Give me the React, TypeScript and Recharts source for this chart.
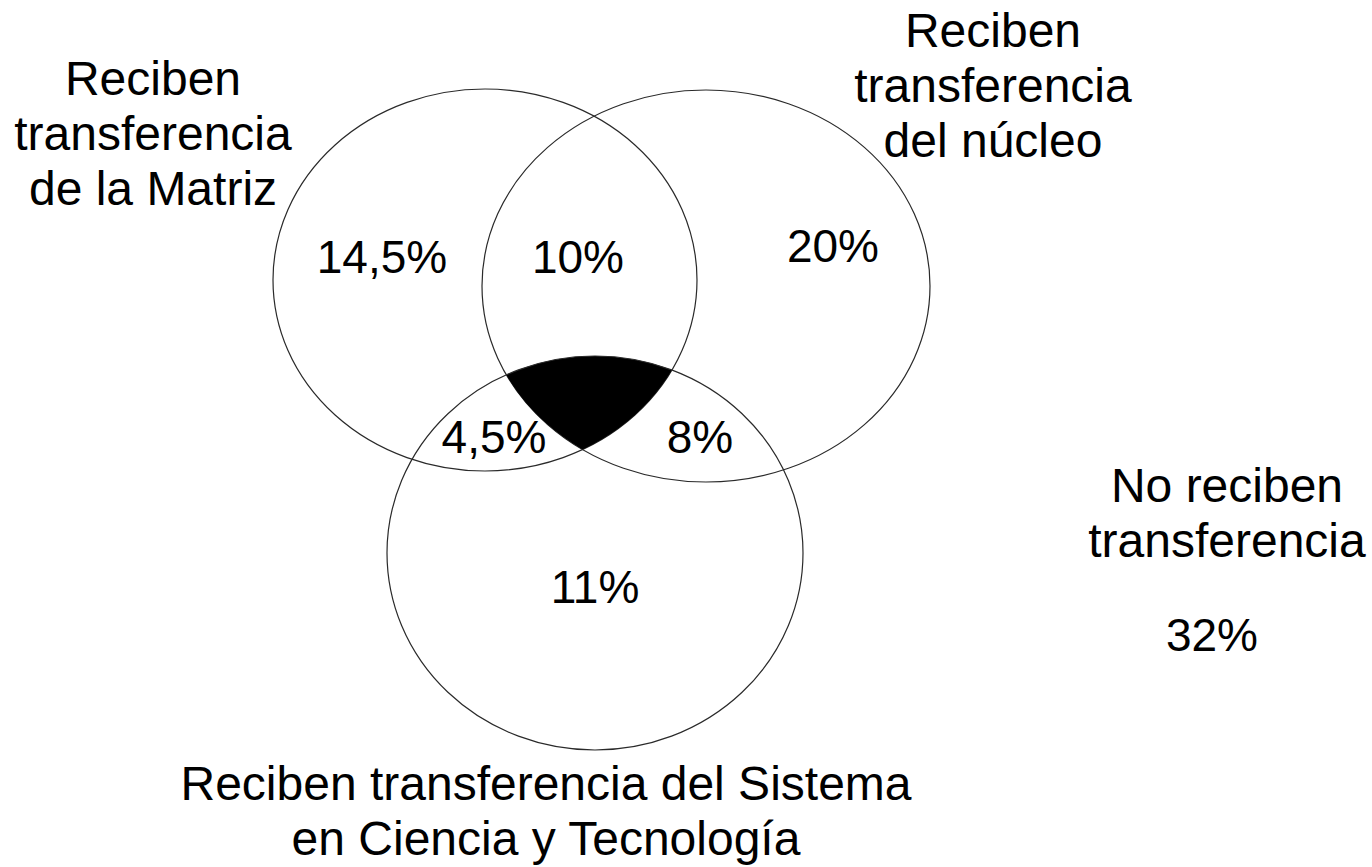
import React from 'react';
import { ScatterChart, Scatter, XAxis, YAxis } from 'recharts';

// canvas size; the axis domains equal the pixel size so 1 unit = 1px
const W = 1372;
const H = 867;

// the three sets (ellipses), in page units
const setKeys = ['matriz', 'nucleo', 'sistema'];
const setCx = [485, 706, 595];
const setCy = [280, 286, 553];
const setRx = [212, 224, 208];
const setRy = [191, 196, 197];

// region shares (%)
const regionNames = ['Solo Matriz', 'Matriz y núcleo', 'Solo núcleo', 'Matriz y Sistema', 'Núcleo y Sistema', 'Solo Sistema', 'Ninguno'];
const regionValues = [14.5, 10, 20, 4.5, 8, 11, 32];
const regionX = [382, 578, 833, 494, 700, 595, 1212];
const regionY = [273, 273, 262, 453, 453, 603, 651];

// set titles
const titleText = [
  'Reciben\ntransferencia\nde la Matriz',
  'Reciben\ntransferencia\ndel núcleo',
  'Reciben transferencia del Sistema\nen Ciencia y Tecnología',
  'No reciben\ntransferencia',
];
const titleX = [153, 993, 546, 1227];
const titleY = [95, 47, 800, 502];

const sets = setKeys.map((key, i) => ({ key, x: setCx[i], y: setCy[i], rx: setRx[i], ry: setRy[i] }));
const regions = regionNames.map((name, i) => ({ name, value: regionValues[i], x: regionX[i], y: regionY[i] }));
const titles = titleText.map((text, i) => ({ text, x: titleX[i], y: titleY[i] }));

const FONT = '"Liberation Sans", Arial, Helvetica, sans-serif';
const fmt = (v: number) => String(v).replace('.', ',') + '%';

const SetShape = (props: any) => {
  const { cx, cy, payload } = props;
  const { rx, ry, key } = payload;
  return (
    <g>
      <defs>
        <clipPath id={`venn-${key}`}>
          <ellipse cx={cx} cy={cy} rx={rx} ry={ry} />
        </clipPath>
      </defs>
      {key === 'sistema' && (
        <g clipPath="url(#venn-matriz)">
          <g clipPath="url(#venn-nucleo)">
            <ellipse cx={cx} cy={cy} rx={rx} ry={ry} fill="#000" />
          </g>
        </g>
      )}
      <ellipse cx={cx} cy={cy} rx={rx} ry={ry} fill="none" stroke="#2a2a2a" strokeWidth={1.2} />
    </g>
  );
};

const ValueShape = (props: any) => (
  <text x={props.cx} y={props.cy} textAnchor="middle" fontFamily={FONT} fontSize={46} fill="#000">
    {fmt(props.payload.value)}
  </text>
);

const TitleShape = (props: any) => {
  const lines: string[] = props.payload.text.split('\n');
  return (
    <text x={props.cx} y={props.cy} textAnchor="middle" fontFamily={FONT} fontSize={48} fill="#000">
      {lines.map((l, i) => (
        <tspan key={i} x={props.cx} dy={i === 0 ? 0 : 55}>{l}</tspan>
      ))}
    </text>
  );
};

export default function App() {
  return (
    <div style={{ position: 'absolute', left: 0, top: 0, background: '#fff' }}>
      <ScatterChart width={W} height={H} margin={{ top: 0, right: 0, bottom: 0, left: 0 }}>
        <XAxis type="number" dataKey="x" domain={[0, W]} hide />
        <YAxis type="number" dataKey="y" domain={[0, H]} reversed hide />
        <Scatter data={sets} shape={<SetShape />} isAnimationActive={false} />
        <Scatter data={regions} shape={<ValueShape />} isAnimationActive={false} />
        <Scatter data={titles} shape={<TitleShape />} isAnimationActive={false} />
      </ScatterChart>
    </div>
  );
}
